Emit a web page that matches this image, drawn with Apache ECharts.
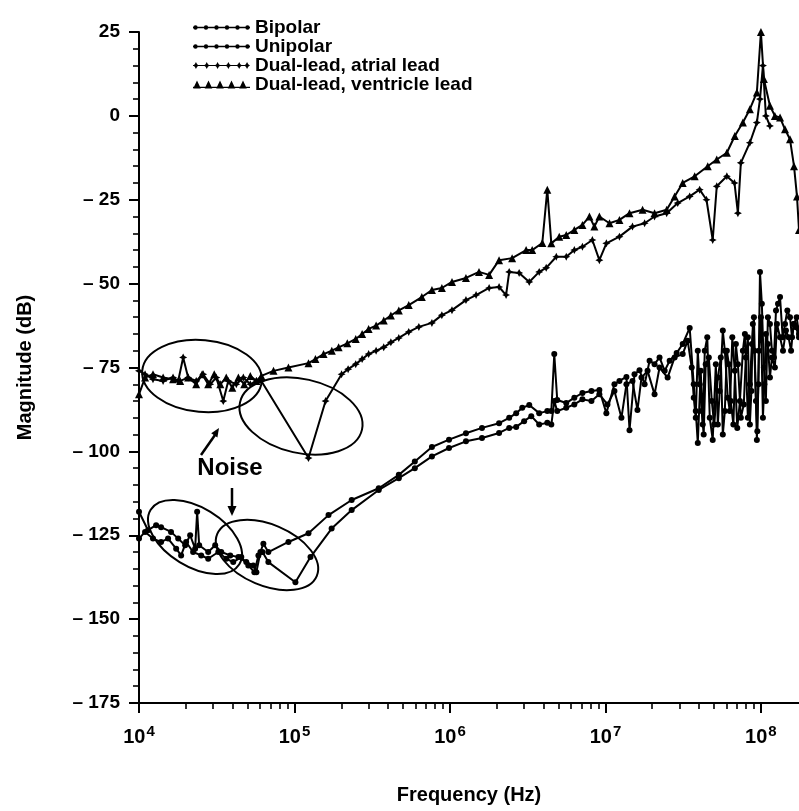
<!DOCTYPE html>
<html>
<head>
<meta charset="utf-8">
<script src="https://cdn.jsdelivr.net/npm/echarts@6/dist/echarts.min.js"></script>
<style>
html,body{margin:0;padding:0;background:#fff;}
#chart{width:799px;height:811px;}
</style>
</head>
<body>
<div id="chart"></div>
<script>
// ---- data: [log10(frequency in Hz), magnitude in dB] ----
const seriesNames = ['Bipolar', 'Unipolar', 'Dual-lead, atrial lead', 'Dual-lead, ventricle lead'];

const bipolarPts = [[4.000,-118],[4.058,-123.5],[4.110,-122],[4.142,-122.6],[4.206,-124],[4.252,-126],[4.297,-128],[4.329,-125],[4.361,-129],[4.374,-118],[4.387,-128],[4.445,-130],[4.490,-128],[4.529,-130],[4.587,-131],[4.639,-131.5],[4.690,-133],[4.735,-134],[4.755,-136],[4.781,-130],[4.800,-127.5],[4.832,-130],[4.961,-127],[5.090,-124.4],[5.219,-119],[5.368,-114.5],[5.542,-111],[5.671,-107],[5.774,-103],[5.884,-98.7],[5.994,-96.5],[6.103,-94.6],[6.206,-93],[6.316,-91.6],[6.381,-90],[6.426,-88.6],[6.465,-87],[6.510,-86.2],[6.574,-88.6],[6.626,-88],[6.652,-88],[6.671,-71],[6.690,-84.7],[6.748,-85.6],[6.800,-84],[6.852,-82.6],[6.910,-82],[6.961,-81.7],[7.006,-88.6],[7.058,-80],[7.090,-79],[7.135,-77.8],[7.155,-93.7],[7.187,-77],[7.219,-75.8],[7.252,-80],[7.284,-73],[7.316,-74],[7.348,-72],[7.381,-76],[7.413,-73],[7.458,-70.7],[7.497,-68],[7.542,-63.2],[7.568,-80],[7.581,-88],[7.594,-97.5],[7.613,-76],[7.626,-92],[7.639,-70],[7.655,-66],[7.671,-90],[7.690,-96.6],[7.710,-74],[7.723,-92],[7.735,-82],[7.755,-64],[7.768,-70],[7.787,-84],[7.800,-88],[7.816,-66],[7.832,-76],[7.848,-93],[7.865,-85],[7.884,-70],[7.897,-65],[7.916,-90],[7.929,-80],[7.942,-68],[7.955,-60],[7.974,-96.6],[7.984,-80],[7.994,-46.5],[8.006,-56],[8.019,-75],[8.032,-85],[8.045,-60],[8.058,-62],[8.071,-70],[8.084,-72],[8.097,-58],[8.110,-56],[8.123,-54],[8.140,-66],[8.155,-62],[8.170,-58],[8.187,-60],[8.200,-66],[8.213,-62],[8.230,-60],[8.245,-65]];

const unipolarPts = [[4.000,-126],[4.039,-124],[4.090,-126],[4.142,-127],[4.187,-126],[4.239,-129],[4.271,-131],[4.303,-127],[4.348,-130],[4.400,-131],[4.445,-132],[4.510,-130],[4.561,-132],[4.606,-133],[4.658,-131.5],[4.703,-134],[4.742,-136],[4.768,-131],[4.794,-130],[4.832,-133],[5.006,-139],[5.103,-131.5],[5.239,-123],[5.368,-117.5],[5.542,-111.5],[5.671,-108],[5.774,-105],[5.884,-101.5],[5.994,-99],[6.103,-97],[6.206,-96],[6.316,-94.5],[6.381,-93],[6.426,-92.7],[6.477,-91],[6.523,-89.5],[6.574,-92],[6.626,-91.5],[6.652,-92],[6.671,-85],[6.690,-88],[6.748,-87],[6.800,-86],[6.852,-84.5],[6.910,-85],[6.961,-83],[7.013,-86],[7.058,-82],[7.103,-90],[7.135,-80],[7.174,-79],[7.206,-87.7],[7.232,-78],[7.271,-76],[7.316,-83],[7.348,-75],[7.400,-78],[7.445,-72],[7.497,-71],[7.529,-67],[7.555,-75],[7.568,-84],[7.581,-90],[7.594,-70],[7.606,-80],[7.619,-88],[7.632,-95],[7.645,-74],[7.665,-72],[7.684,-85],[7.700,-92],[7.723,-78],[7.742,-72],[7.755,-95],[7.768,-88],[7.781,-70],[7.794,-74],[7.806,-85],[7.823,-92],[7.839,-68],[7.852,-74],[7.871,-90],[7.890,-86],[7.903,-72],[7.916,-66],[7.929,-92],[7.939,-82],[7.948,-62],[7.958,-70],[7.968,-85],[7.977,-94],[7.987,-70],[8.000,-60],[8.013,-90],[8.022,-80],[8.032,-65],[8.045,-68],[8.058,-78],[8.071,-72],[8.090,-75],[8.103,-62],[8.123,-66],[8.142,-70],[8.161,-64],[8.178,-66],[8.194,-70],[8.210,-62],[8.226,-63],[8.245,-66]];

const atrialPts = [[4.000,-76],[4.039,-77],[4.090,-78.5],[4.155,-79],[4.219,-78],[4.252,-79],[4.284,-72],[4.316,-78],[4.368,-79],[4.413,-77],[4.458,-80],[4.497,-78],[4.542,-85],[4.574,-79],[4.626,-80],[4.671,-78],[4.716,-80],[4.755,-79],[4.787,-79],[5.090,-102],[5.200,-85],[5.303,-77],[5.345,-75.5],[5.394,-74],[5.435,-72.5],[5.477,-71],[5.525,-70],[5.574,-69],[5.620,-67.5],[5.671,-66.2],[5.735,-64.4],[5.800,-62.9],[5.884,-61.7],[5.948,-59.4],[6.013,-57.9],[6.103,-54.9],[6.168,-53.4],[6.252,-51.3],[6.316,-51],[6.361,-53.4],[6.381,-46.5],[6.445,-46.8],[6.510,-49.5],[6.574,-46.5],[6.619,-45.3],[6.684,-42],[6.748,-42],[6.800,-40],[6.852,-39],[6.916,-37],[6.961,-43],[7.006,-38],[7.090,-36],[7.174,-33],[7.252,-32],[7.316,-30],[7.394,-29],[7.465,-26],[7.542,-24],[7.606,-22],[7.650,-25],[7.690,-37],[7.716,-21],[7.781,-18],[7.830,-20],[7.852,-29],[7.871,-14],[7.929,-8],[7.974,-2],[7.994,5],[8.013,15],[8.032,0],[8.058,-3]];

const ventriclePts = [[4.000,-83],[4.039,-78],[4.090,-77],[4.155,-78],[4.219,-78.5],[4.265,-79],[4.316,-78],[4.368,-80],[4.406,-77],[4.445,-80],[4.484,-77],[4.523,-80],[4.561,-78],[4.600,-81],[4.639,-78],[4.677,-80],[4.716,-77.5],[4.755,-79],[4.787,-77.5],[4.865,-76],[4.961,-75],[5.090,-73.7],[5.135,-72.5],[5.187,-71],[5.240,-70],[5.284,-69],[5.340,-67.8],[5.394,-66.5],[5.435,-65],[5.477,-63.5],[5.525,-62.5],[5.574,-61],[5.620,-59.5],[5.671,-58],[5.735,-56.4],[5.819,-54],[5.884,-51.9],[5.948,-51.3],[6.013,-49.5],[6.103,-48.3],[6.187,-46.5],[6.252,-47.4],[6.316,-43],[6.400,-42.4],[6.490,-40],[6.529,-40],[6.594,-37.9],[6.626,-22],[6.652,-38],[6.703,-36],[6.748,-35.5],[6.800,-34],[6.852,-32.5],[6.897,-30],[6.929,-33],[6.961,-30],[7.026,-32],[7.090,-31],[7.155,-29],[7.239,-28],[7.316,-29],[7.394,-28],[7.445,-24],[7.497,-20],[7.574,-18],[7.658,-15],[7.716,-13],[7.781,-11],[7.832,-6],[7.884,-2],[7.929,2],[7.974,7],[8.000,25],[8.019,11],[8.058,3],[8.090,0],[8.123,-0.5],[8.155,-4],[8.187,-7],[8.213,-15],[8.232,-24],[8.245,-34]];

const xMajorTicks = [1e4, 1e5, 1e6, 1e7, 1e8];
const yMin = -175, yMax = 25, yStep = 25;
const xMinExp = 4, xMaxExp = 8.245;

// minor ticks at 2..9 x each decade (axis decoration)
const xMinorTicks = [];
for (let d = 4; d <= 8; d++) for (let m = 2; m <= 9; m++) {
  const v = m * Math.pow(10, d);
  if (Math.log10(v) <= xMaxExp) xMinorTicks.push(v);
}

const FONT = '"Liberation Sans", Arial, Helvetica, sans-serif';
const BLACK = '#000';

function toData(pts) { return pts.map(p => [Math.pow(10, p[0]), p[1]]); }

const starPath = 'path://M0 -3L1 -1L3 0L1 1L0 3L-1 1L-3 0L-1 -1Z';

function dotsIcon() {
  let p = 'M0 3.3H57V4.7H0Z';
  [2.5, 13, 23.5, 34, 44.5, 54.5].forEach(x => { p += 'M' + (x - 2.2) + ' 4a2.2 2.2 0 1 1 4.4 0a2.2 2.2 0 1 1 -4.4 0Z'; });
  return 'path://' + p;
}
function starIcon() {
  let p = 'M0 3.4H57V4.6H0Z';
  [3, 14, 25, 36, 47, 55].forEach(x => { p += 'M' + x + ' 0.5L' + (x + 1.2) + ' 2.8L' + (x + 3) + ' 4L' + (x + 1.2) + ' 5.2L' + x + ' 7.5L' + (x - 1.2) + ' 5.2L' + (x - 3) + ' 4L' + (x - 1.2) + ' 2.8Z'; });
  return 'path://' + p;
}
function triIcon() {
  let p = 'M0 6.2H57V7.4H0Z';
  [4, 15.5, 27, 38.5, 50].forEach(x => { p += 'M' + (x - 3.8) + ' 8L' + x + ' 0L' + (x + 3.8) + ' 8Z'; });
  return 'path://' + p;
}

const chart = echarts.init(document.getElementById('chart'), null, { renderer: 'canvas' });

function lineSeries(name, data, symbol, size) {
  return {
    name, type: 'line', data, xAxisIndex: 0, yAxisIndex: 0,
    symbol, symbolSize: size, showSymbol: true, showAllSymbol: true,
    lineStyle: { color: BLACK, width: 2 },
    itemStyle: { color: BLACK, borderWidth: 0 },
    emphasis: { disabled: true }, silent: true,
    clip: true, animation: false
  };
}

function ellipse(cx, cy, a, b, rot) {
  return { type: 'ellipse', x: cx, y: cy, rotation: rot, shape: { cx: 0, cy: 0, rx: a, ry: b },
           style: { fill: 'none', stroke: BLACK, lineWidth: 2 }, z: 100 };
}

const option = {
  backgroundColor: '#fff',
  animation: false,
  grid: { left: 139, right: 0, top: 32, bottom: 108, containLabel: false },
  legend: {
    orient: 'vertical', left: 188, top: 13, itemWidth: 57, itemHeight: 8, itemGap: 0,
    selectedMode: false,
    textStyle: { fontFamily: FONT, fontSize: 19, fontWeight: 'bold', color: BLACK },
    itemStyle: { color: BLACK, borderWidth: 0 },
    data: [
      { name: seriesNames[0], icon: dotsIcon() },
      { name: seriesNames[1], icon: dotsIcon() },
      { name: seriesNames[2], icon: starIcon() },
      { name: seriesNames[3], icon: triIcon() }
    ]
  },
  xAxis: [{
    type: 'log', logBase: 10, position: 'bottom',
    min: Math.pow(10, xMinExp), max: Math.pow(10, xMaxExp),
    name: 'Frequency (Hz)', nameLocation: 'middle', nameGap: 82,
    nameTextStyle: { fontFamily: FONT, fontSize: 20, fontWeight: 'bold', color: BLACK },
    axisLine: { show: true, onZero: false, lineStyle: { color: BLACK, width: 2 } },
    axisTick: { show: true, inside: false, length: 10, customValues: xMajorTicks, lineStyle: { color: BLACK, width: 2 } },
    axisLabel: {
      show: true, customValues: xMajorTicks, margin: 24,
      formatter: v => '{a|10}{b|' + Math.round(Math.log10(v)) + '}',
      rich: {
        a: { fontFamily: FONT, fontSize: 20, fontWeight: 'bold', color: BLACK, verticalAlign: 'bottom', lineHeight: 20 },
        b: { fontFamily: FONT, fontSize: 15, fontWeight: 'bold', color: BLACK, verticalAlign: 'bottom', lineHeight: 15, padding: [0, 0, 8, 1] }
      }
    },
    splitLine: { show: false }, minorTick: { show: false }
  }, {
    type: 'log', logBase: 10, position: 'bottom',
    min: Math.pow(10, xMinExp), max: Math.pow(10, xMaxExp),
    axisLine: { show: false, onZero: false },
    axisTick: { show: true, inside: false, length: 6, customValues: xMinorTicks, lineStyle: { color: BLACK, width: 1.6 } },
    axisLabel: { show: false },
    splitLine: { show: false }
  }],
  yAxis: {
    type: 'value', min: yMin, max: yMax, interval: yStep,
    name: 'Magnitude (dB)', nameLocation: 'middle', nameGap: 104,
    nameTextStyle: { fontFamily: FONT, fontSize: 20, fontWeight: 'bold', color: BLACK },
    axisLine: { show: true, onZero: false, lineStyle: { color: BLACK, width: 2 } },
    axisTick: { show: true, inside: false, length: 10, lineStyle: { color: BLACK, width: 2 } },
    minorTick: { show: true, splitNumber: 5, length: 6, lineStyle: { color: BLACK, width: 1.6 } },
    axisLabel: {
      margin: 19, fontFamily: FONT, fontSize: 19, fontWeight: 'bold', color: BLACK,
      formatter: v => v < 0 ? '\u2013 ' + Math.abs(v) : String(v)
    },
    splitLine: { show: false }
  },
  series: [
    lineSeries(seriesNames[0], toData(bipolarPts), 'circle', 6),
    lineSeries(seriesNames[1], toData(unipolarPts), 'circle', 6),
    lineSeries(seriesNames[2], toData(atrialPts), starPath, 8),
    lineSeries(seriesNames[3], toData(ventriclePts), 'triangle', 8)
  ],
  graphic: [
    ellipse(202, 376, 60, 36, -0.09),
    ellipse(301, 416, 62.5, 37, -0.22),
    ellipse(195, 537, 52, 29.5, -0.55),
    ellipse(267, 555, 54, 30.5, -0.40),
    { type: 'text', x: 230, y: 468, z: 100,
      style: { text: 'Noise', fontFamily: FONT, fontSize: 24, fontWeight: 'bold', fill: BLACK, align: 'center', verticalAlign: 'middle' } },
    { type: 'line', z: 100, shape: { x1: 201, y1: 455, x2: 215, y2: 435 }, style: { stroke: BLACK, lineWidth: 2.5 } },
    { type: 'polygon', z: 100, shape: { points: [[219, 428], [217.4, 437.5], [211.2, 433.2]] }, style: { fill: BLACK } },
    { type: 'line', z: 100, shape: { x1: 232, y1: 488, x2: 232, y2: 508 }, style: { stroke: BLACK, lineWidth: 2.5 } },
    { type: 'polygon', z: 100, shape: { points: [[227.5, 506], [236.5, 506], [232, 516]] }, style: { fill: BLACK } }
  ]
};

chart.setOption(option);
</script>
</body>
</html>
